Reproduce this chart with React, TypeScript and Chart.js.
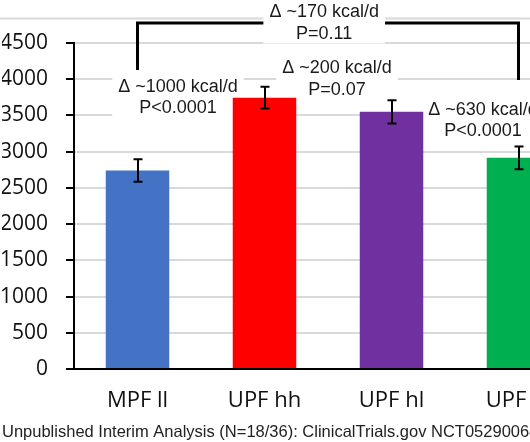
import React, { useEffect, useRef } from "react";
import { Chart, registerables } from "chart.js";

Chart.register(...registerables);

// ---- data ----
const categories = ["MPF ll", "UPF hh", "UPF hl", "UPF lh"];
const energyIntake = [2740, 3745, 3550, 2915];
const errorSE = [155, 150, 160, 158];
const barColors = ["#4472C4", "#FF0000", "#7030A0", "#00B050"];
const yMin = 0;
const yMax = 4500;
const yStep = 500;
const footnote =
  "Unpublished Interim Analysis (N=18/36): ClinicalTrials.gov NCT05290064";

// annotation anchors in data coordinates: [category index, value]
const noteLines = [
  ["Δ ~170 kcal/d", "P=0.11"],
  ["Δ ~1000 kcal/d", "P<0.0001"],
  ["Δ ~200 kcal/d", "P=0.07"],
  ["Δ ~630 kcal/d", "P<0.0001"],
];
const noteIndex = [1.47, 0.319, 1.571, 2.72];
const noteValue = [4776, 3748, 4003, 3430];
// bracket between first and last category
const bracketFrom = 0;
const bracketTo = 3;
const bracketLevel = 4776;
const bracketLeftEnd = 4127;
const bracketRightEnd = 3989;
const topRuleValue = 4845;

const NOTE_FONT = "18px 'Liberation Sans', Arial, sans-serif";
const NOTE_LH = 21.5;

const overlay = {
  id: "overlay",
  beforeDraw(chart: any) {
    const { ctx, scales } = chart;
    const y = scales.y;
    const py = Math.round(y.getPixelForValue(topRuleValue)) + 0.5;
    ctx.save();
    ctx.strokeStyle = "#d9d9d9";
    ctx.lineWidth = 2;
    ctx.beginPath();
    ctx.moveTo(0, py);
    ctx.lineTo(chart.width, py);
    ctx.stroke();
    ctx.restore();
  },
  beforeDatasetsDraw(chart: any) {
    const { ctx, scales } = chart;
    const { x, y } = scales;
    // bracket
    const xl = x.getPixelForValue(bracketFrom);
    const xr = x.getPixelForValue(bracketTo);
    const yl = y.getPixelForValue(bracketLevel);
    ctx.save();
    ctx.strokeStyle = "#000";
    ctx.lineWidth = 3;
    ctx.lineJoin = "miter";
    ctx.beginPath();
    ctx.moveTo(xl, y.getPixelForValue(bracketLeftEnd));
    ctx.lineTo(xl, yl);
    ctx.lineTo(xr, yl);
    ctx.lineTo(xr, y.getPixelForValue(bracketRightEnd));
    ctx.stroke();
    // white boxes behind notes
    ctx.font = NOTE_FONT;
    ctx.fillStyle = "#ffffff";
    noteLines.forEach((lines, i) => {
      const cx = x.getPixelForValue(noteIndex[i]);
      const cy = y.getPixelForValue(noteValue[i]);
      const w = Math.max(...lines.map((l) => ctx.measureText(l).width)) + 12;
      const h = lines.length * NOTE_LH - 2;
      ctx.fillRect(cx - w / 2, cy - h / 2, w, h);
    });
    ctx.restore();
  },
  afterDatasetsDraw(chart: any) {
    const { ctx, scales } = chart;
    const { x, y } = scales;
    const meta = chart.getDatasetMeta(0);
    ctx.save();
    // error bars
    ctx.strokeStyle = "#000";
    ctx.lineWidth = 2;
    meta.data.forEach((bar: any, i: number) => {
      const cx = Math.round(bar.x);
      const top = y.getPixelForValue(energyIntake[i] + errorSE[i]);
      const bot = y.getPixelForValue(energyIntake[i] - errorSE[i]);
      ctx.beginPath();
      ctx.moveTo(cx, top);
      ctx.lineTo(cx, bot);
      ctx.moveTo(cx - 4.5, top);
      ctx.lineTo(cx + 4.5, top);
      ctx.moveTo(cx - 4.5, bot);
      ctx.lineTo(cx + 4.5, bot);
      ctx.stroke();
    });
    // note text
    ctx.font = NOTE_FONT;
    ctx.fillStyle = "#1a1a1a";
    ctx.textAlign = "center";
    ctx.textBaseline = "middle";
    noteLines.forEach((lines, i) => {
      const cx = x.getPixelForValue(noteIndex[i]);
      const cy = y.getPixelForValue(noteValue[i]);
      const start = cy - ((lines.length - 1) * NOTE_LH) / 2;
      lines.forEach((l, k) => ctx.fillText(l, cx, start + k * NOTE_LH));
    });
    ctx.restore();
  },
};

export default function App() {
  const ref = useRef<HTMLCanvasElement>(null);
  useEffect(() => {
    const chart = new Chart(ref.current as HTMLCanvasElement, {
      type: "bar",
      data: {
        labels: categories,
        datasets: [
          {
            data: energyIntake,
            backgroundColor: barColors,
            borderWidth: 0,
            barPercentage: 0.5,
            categoryPercentage: 1,
          },
        ],
      },
      options: {
        responsive: false,
        animation: false,
        devicePixelRatio: 1,
        layout: { padding: { left: 2, right: 18, top: 43, bottom: 0 } },
        plugins: {
          legend: { display: false },
          tooltip: { enabled: false },
          title: {
            display: true,
            text: footnote,
            position: "bottom",
            align: "start",
            padding: 0,
            color: "#222",
            font: { family: "'Liberation Sans', Arial, sans-serif", size: 16.5, weight: "normal" },
          },
        },
        scales: {
          x: {
            z: 1,
            grid: { display: false, drawTicks: false },
            border: { display: true, color: "#000", width: 2 },
            ticks: {
              padding: 19,
              color: "#111",
              autoSkip: false,
              maxRotation: 0,
              font: { family: "'Open Sans', sans-serif", size: 22 },
            },
            afterFit: (s: any) => {
              s.height = 53.2;
            },
          },
          y: {
            min: yMin,
            max: yMax,
            ticks: {
              stepSize: yStep,
              padding: 18,
              color: "#111",
              font: { family: "'Open Sans', sans-serif", size: 21 },
              callback: (v: any) => String(v),
            },
            grid: {
              color: "#d9d9d9",
              lineWidth: 2,
              tickColor: "#000",
              tickWidth: 2,
              tickLength: 8,
            },
            border: { display: true, color: "#000", width: 2 },
            afterFit: (s: any) => {
              s.width = 72;
            },
          },
        },
      } as any,
      plugins: [overlay],
    });
    return () => chart.destroy();
  }, []);
  return (
    <div
      style={{
        position: "fixed",
        left: 0,
        top: 0,
        width: 530,
        height: 442,
        overflow: "hidden",
        background: "#fff",
      }}
    >
      <canvas
        ref={ref}
        width={600}
        height={442}
        style={{ display: "block", width: 600, height: 442 }}
      />
    </div>
  );
}
